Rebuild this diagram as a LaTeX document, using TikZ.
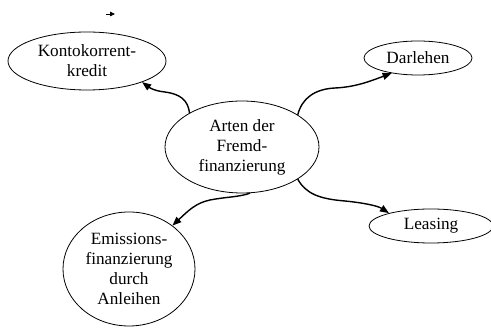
\documentclass[tikz,border=0pt]{standalone}
\usepackage{fontspec}
\setmainfont{Liberation Serif}
\usetikzlibrary{shapes,arrows.meta}

\begin{document}
\begin{tikzpicture}[x=1pt,y=-1pt,
      every node/.style={shape=ellipse, draw, line width=0.8pt, inner sep=0pt,
        align=center, font=\fontsize{17.2}{20}\selectfont},
      link/.style={line width=1.4pt, -{Triangle[length=9pt,width=7pt]}}]
  \useasboundingbox (0,0) rectangle (491,328);
  \node[minimum width=154pt, minimum height=92pt] (arten) at (242,147)
    {Arten der\\Fremd-\\finanzierung};
  \node[minimum width=158pt, minimum height=58pt] (konto) at (87,61)
    {Kontokorrent-\\kredit};
  \node[minimum width=108pt, minimum height=34pt] (darl) at (418,58) {Darlehen};
  \node[minimum width=124pt, minimum height=34pt] (leas) at (431,226) {Leasing};
  \node[minimum width=132pt, minimum height=114pt] (emis) at (129,269)
    {Emissions-\\finanzierung\\durch\\Anleihen};
  % connectors
  \draw[link] (arten.147) .. controls (188,100) and (180,94) .. (165,92)
    .. controls (155,91) and (150,88) .. (konto.-21);
  \draw[link] (arten.30) .. controls (302,98) and (315,89) .. (335,88)
    .. controls (355,87) and (368,82) .. (darl.-150);
  \draw[link] (arten.-30) .. controls (306,194) and (320,199) .. (345,201)
    .. controls (365,203) and (378,206) .. (leas.163);
  \draw[link] (arten.-80) .. controls (240,197) and (225,197) .. (210,200)
    .. controls (196,203) and (189,210) .. (emis.45);
  % stray arrow at top
  \coordinate (s1) at (106,14);
  \coordinate (s2) at (115,14);
  \draw[line width=0.8pt, -{Triangle[length=5pt,width=4.5pt]}] (s1) -- (s2);
\end{tikzpicture}
\end{document}
